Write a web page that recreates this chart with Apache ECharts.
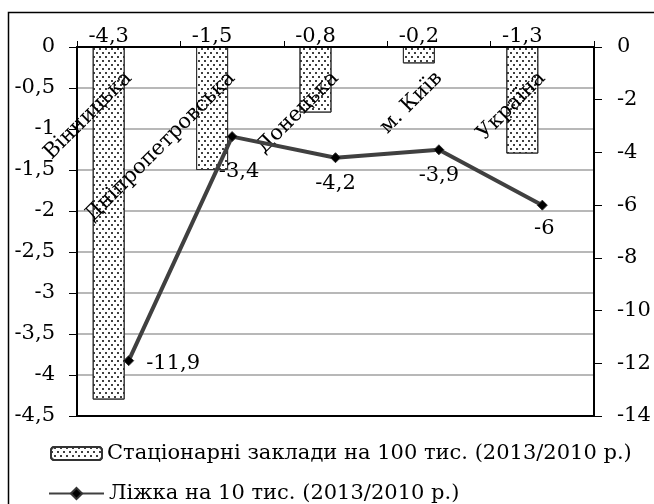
<!DOCTYPE html>
<html><head><meta charset="utf-8">
<script src="https://cdn.jsdelivr.net/npm/echarts@6/dist/echarts.min.js"></script>
<style>html,body{margin:0;padding:0;background:#fff}#c{width:654px;height:504px}</style>
</head><body><div id="c"></div>
<script>
const categories = ['Вінницька', 'Дніпропетровська', 'Донецька', 'м. Київ', 'Україна'];
const facilities = [-4.3, -1.5, -0.8, -0.2, -1.3];
const beds = [-11.9, -3.4, -4.2, -3.9, -6];
const facilitiesName = 'Стаціонарні заклади на 100 тис. (2013/2010 р.)';
const bedsName = 'Ліжка на 10 тис. (2013/2010 р.)';

const FONT = 'DejaVu Serif';
const FS = 21;
const comma = v => String(v).replace('.', ',');

const bedLabelPos = [
  {position: 'right', distance: 12, offset: [0, 3]},
  {position: 'bottom', distance: 19, offset: [7, 0]},
  {position: 'bottom', distance: 10},
  {position: 'bottom', distance: 10},
  {position: 'bottom', distance: 7, offset: [2, 0]}
];

const chart = echarts.init(document.getElementById('c'));
chart.setOption({
  backgroundColor: '#fff',
  animation: false,
  textStyle: {fontFamily: FONT, color: '#000'},
  graphic: [{
    type: 'rect', silent: true, z: 100,
    shape: {x: 8.5, y: 12.5, width: 700, height: 600},
    style: {fill: 'none', stroke: '#000', lineWidth: 1.5}
  }],
  grid: {left: 77, right: 60, top: 47, bottom: 88, containLabel: false},
  legend: [{
    data: [facilitiesName], left: 45, top: 438, itemWidth: 51, itemHeight: 13, itemGap: 4,
    textStyle: {fontFamily: FONT, fontSize: FS, color: '#000'}, selectedMode: false
  }, {
    data: [bedsName], left: 43, top: 478, itemWidth: 55, itemHeight: 14,
    textStyle: {fontFamily: FONT, fontSize: FS, color: '#000'}, selectedMode: false
  }],
  xAxis: [{
    type: 'category', data: categories, position: 'top', boundaryGap: true, z: 10,
    axisLine: {show: true, onZero: false, lineStyle: {color: '#000', width: 2}},
    axisTick: {show: true, length: 6, inside: false, lineStyle: {color: '#000', width: 1}},
    axisLabel: {inside: true, rotate: -45, margin: 28, fontFamily: FONT, fontSize: FS, color: '#000', interval: 0},
    splitLine: {show: false}
  }, {
    type: 'category', data: categories, position: 'bottom', gridIndex: 0,
    axisLine: {show: true, onZero: false, lineStyle: {color: '#000', width: 2}},
    axisTick: {show: false}, axisLabel: {show: false}, splitLine: {show: false}
  }],
  yAxis: [{
    type: 'value', min: -4.5, max: 0, interval: 0.5, position: 'left',
    axisLine: {show: true, lineStyle: {color: '#000', width: 2}},
    axisTick: {show: true, length: 8, lineStyle: {color: '#000', width: 1}},
    axisLabel: {margin: 22, fontFamily: FONT, fontSize: FS, color: '#000', formatter: comma},
    splitLine: {show: true, lineStyle: {color: '#a0a0a0', width: 1.5}}
  }, {
    type: 'value', min: -14, max: 0, interval: 2, position: 'right',
    axisLine: {show: true, lineStyle: {color: '#000', width: 2}},
    axisTick: {show: true, length: 8, lineStyle: {color: '#000', width: 1}},
    axisLabel: {margin: 23, fontFamily: FONT, fontSize: FS, color: '#000', formatter: comma},
    splitLine: {show: false}
  }],
  series: [{
    name: facilitiesName, type: 'bar', data: facilities, xAxisIndex: 0, yAxisIndex: 0,
    barWidth: 32, barGap: '25%',
    itemStyle: {
      color: '#fff', borderColor: '#333', borderWidth: 1,
      decal: {symbol: 'circle', symbolSize: 1, dashArrayX: [[2, 4], [0, 3, 2, 1]], dashArrayY: [2, 2], color: '#000'}
    },
    label: {show: true, position: 'top', distance: 0, fontFamily: FONT, fontSize: FS, color: '#000', formatter: p => comma(p.value)},
    z: 2
  }, {
    name: 'spacer', type: 'bar', data: categories.map(() => null), xAxisIndex: 0, yAxisIndex: 0,
    barWidth: 32, barGap: '25%', itemStyle: {color: 'transparent'}
  }, {
    name: bedsName, type: 'line', yAxisIndex: 1, xAxisIndex: 0,
    data: beds.map((v, i) => ({value: v, label: bedLabelPos[i]})),
    symbol: 'diamond', symbolSize: 10,
    lineStyle: {color: '#404040', width: 4},
    itemStyle: {color: '#000', borderColor: '#333', borderWidth: 1},
    label: {show: true, fontFamily: FONT, fontSize: FS, color: '#000', formatter: p => comma(p.value)},
    z: 12
  }]
});
</script></body></html>
